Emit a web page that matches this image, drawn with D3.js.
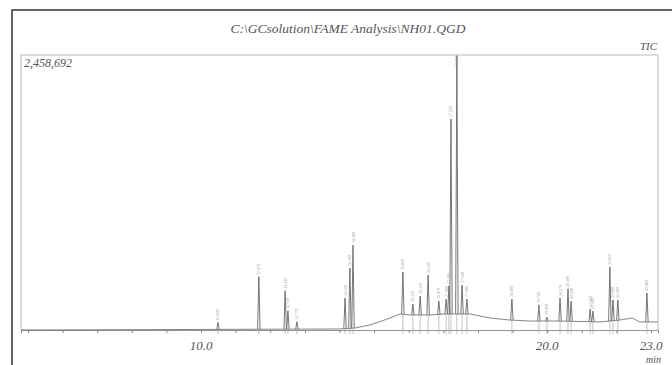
<!DOCTYPE html>
<html>
<head>
<meta charset="utf-8">
<script src="https://cdn.jsdelivr.net/npm/d3@7"></script>
<style>
  html, body { margin: 0; padding: 0; background: #fff; }
  svg { display: block; }
  text { font-family: 'Liberation Serif', 'DejaVu Serif', serif; font-style: italic; fill: #555; }
</style>
</head>
<body>
<div id="chart"></div>
<script>
const title = 'C:\\GCsolution\\FAME Analysis\\NH01.QGD'
const fullScale = 2458692

// peak retention times (min) and apex heights above the drifting baseline (counts)
const peakTimes = [10.49, 11.67, 12.43, 12.51, 12.77, 14.16, 14.30, 14.39, 15.83, 16.12,
  16.33, 16.56, 16.87, 17.08, 17.16, 17.22, 17.39, 17.54, 17.68, 18.98,
  19.76, 19.99, 20.37, 20.60, 20.69, 21.24, 21.32, 21.81, 21.90, 22.04, 22.88]
const peakHeights = [62000, 469000, 344000, 165000, 67000, 274000, 539000, 743000, 378000, 98000,
  170000, 358000, 120000, 134000, 250000, 1744000, 2310000, 259000, 134000, 189000,
  144000, 36000, 206000, 289000, 181000, 114000, 96000, 483000, 185000, 181000, 259000]

// drifting baseline
const baseTimes = [4.8, 10.0, 14.01, 14.45, 14.88, 15.31, 15.75, 16.04, 16.61, 17.05,
  17.77, 18.35, 18.92, 19.50, 20.37, 21.52, 22.10, 22.45, 22.68, 23.2]
const baseLevels = [0, 5000, 9000, 18000, 45000, 90000, 143000, 134000, 134000, 143000,
  143000, 107000, 89000, 80000, 80000, 72000, 89000, 107000, 72000, 72000]

const tickValues = d3.range(5, 24)
const tickLabels = [10, 20, 23]

const width = 672
const height = 365
const plot = { left: 21, right: 658, top: 55, bottom: 330 }

const svg = d3.select('#chart').append('svg')
  .attr('width', width)
  .attr('height', height)

const x = d3.scaleLinear().domain([4.8, 23.2]).range([plot.left, plot.right])
const y = d3.scaleLinear().domain([0, fullScale]).range([plot.bottom, plot.top])
const baseAt = d3.scaleLinear().domain(baseTimes).range(baseLevels)

// outer page border
svg.append('path')
  .attr('d', `M12,${height} L12,10 L${width},10`)
  .attr('fill', 'none')
  .attr('stroke', '#333')
  .attr('stroke-width', 1.5)

// plot frame
svg.append('path')
  .attr('d', `M${plot.left},${plot.bottom} L${plot.left},${plot.top} L${plot.right},${plot.top} L${plot.right},${plot.bottom}`)
  .attr('fill', 'none')
  .attr('stroke', '#aaa')
  .attr('stroke-width', 0.8)

svg.append('text')
  .attr('x', 348).attr('y', 33)
  .attr('text-anchor', 'middle')
  .attr('font-size', 13.5)
  .text(title)

svg.append('text')
  .attr('x', 657).attr('y', 50)
  .attr('text-anchor', 'end')
  .attr('font-size', 11)
  .text('TIC')

svg.append('text')
  .attr('x', 24).attr('y', 67)
  .attr('font-size', 12)
  .text(d3.format(',')(fullScale))

// time axis
const axis = svg.append('g')
  .attr('transform', `translate(0,${plot.bottom})`)
  .call(d3.axisBottom(x).tickValues(tickValues).tickSize(3).tickFormat(''))
axis.select('.domain').attr('stroke', '#777').attr('stroke-width', 0.8)
axis.selectAll('.tick line').attr('stroke', '#888')

svg.selectAll('.tick-label')
  .data(tickLabels)
  .join('text')
  .attr('class', 'tick-label')
  .attr('x', (d) => x(d))
  .attr('y', 350)
  .attr('text-anchor', 'middle')
  .attr('font-size', 13)
  .text((d) => d3.format('.1f')(d))

svg.append('text')
  .attr('x', 661).attr('y', 363)
  .attr('text-anchor', 'end')
  .attr('font-size', 10)
  .text('min')

// baseline trace
svg.append('path')
  .datum(baseTimes)
  .attr('fill', 'none')
  .attr('stroke', '#666')
  .attr('stroke-width', 0.8)
  .attr('d', d3.line().x((d) => x(d)).y((d, i) => y(baseLevels[i])))

const peaks = peakTimes.map((t, i) => ({ t, h: peakHeights[i], base: baseAt(t) }))
const halfWidth = 0.035

// integration marks under each peak
svg.append('g').selectAll('line')
  .data(peaks)
  .join('line')
  .attr('x1', (d) => x(d.t))
  .attr('x2', (d) => x(d.t))
  .attr('y1', (d) => y(d.base))
  .attr('y2', plot.bottom + 4)
  .attr('stroke', '#999')
  .attr('stroke-width', 0.6)

svg.append('g').selectAll('path')
  .data(peaks)
  .join('path')
  .attr('fill', 'none')
  .attr('stroke', '#666')
  .attr('stroke-width', 0.9)
  .attr('d', (d) => `M${x(d.t - halfWidth)},${y(d.base)} L${x(d.t)},${y(d.base + d.h)} L${x(d.t + halfWidth)},${y(d.base)}`)

// small rotated retention-time labels over the apexes
svg.append('g').selectAll('text')
  .data(peaks)
  .join('text')
  .attr('transform', (d) => `translate(${x(d.t) + 1.5},${Math.max(y(d.base + d.h) - 2, plot.top + 12)}) rotate(-90)`)
  .attr('font-size', 4)
  .attr('font-style', 'normal')
  .style('fill', '#999')
  .text((d) => d3.format('.3f')(d.t))
</script>
</body>
</html>
